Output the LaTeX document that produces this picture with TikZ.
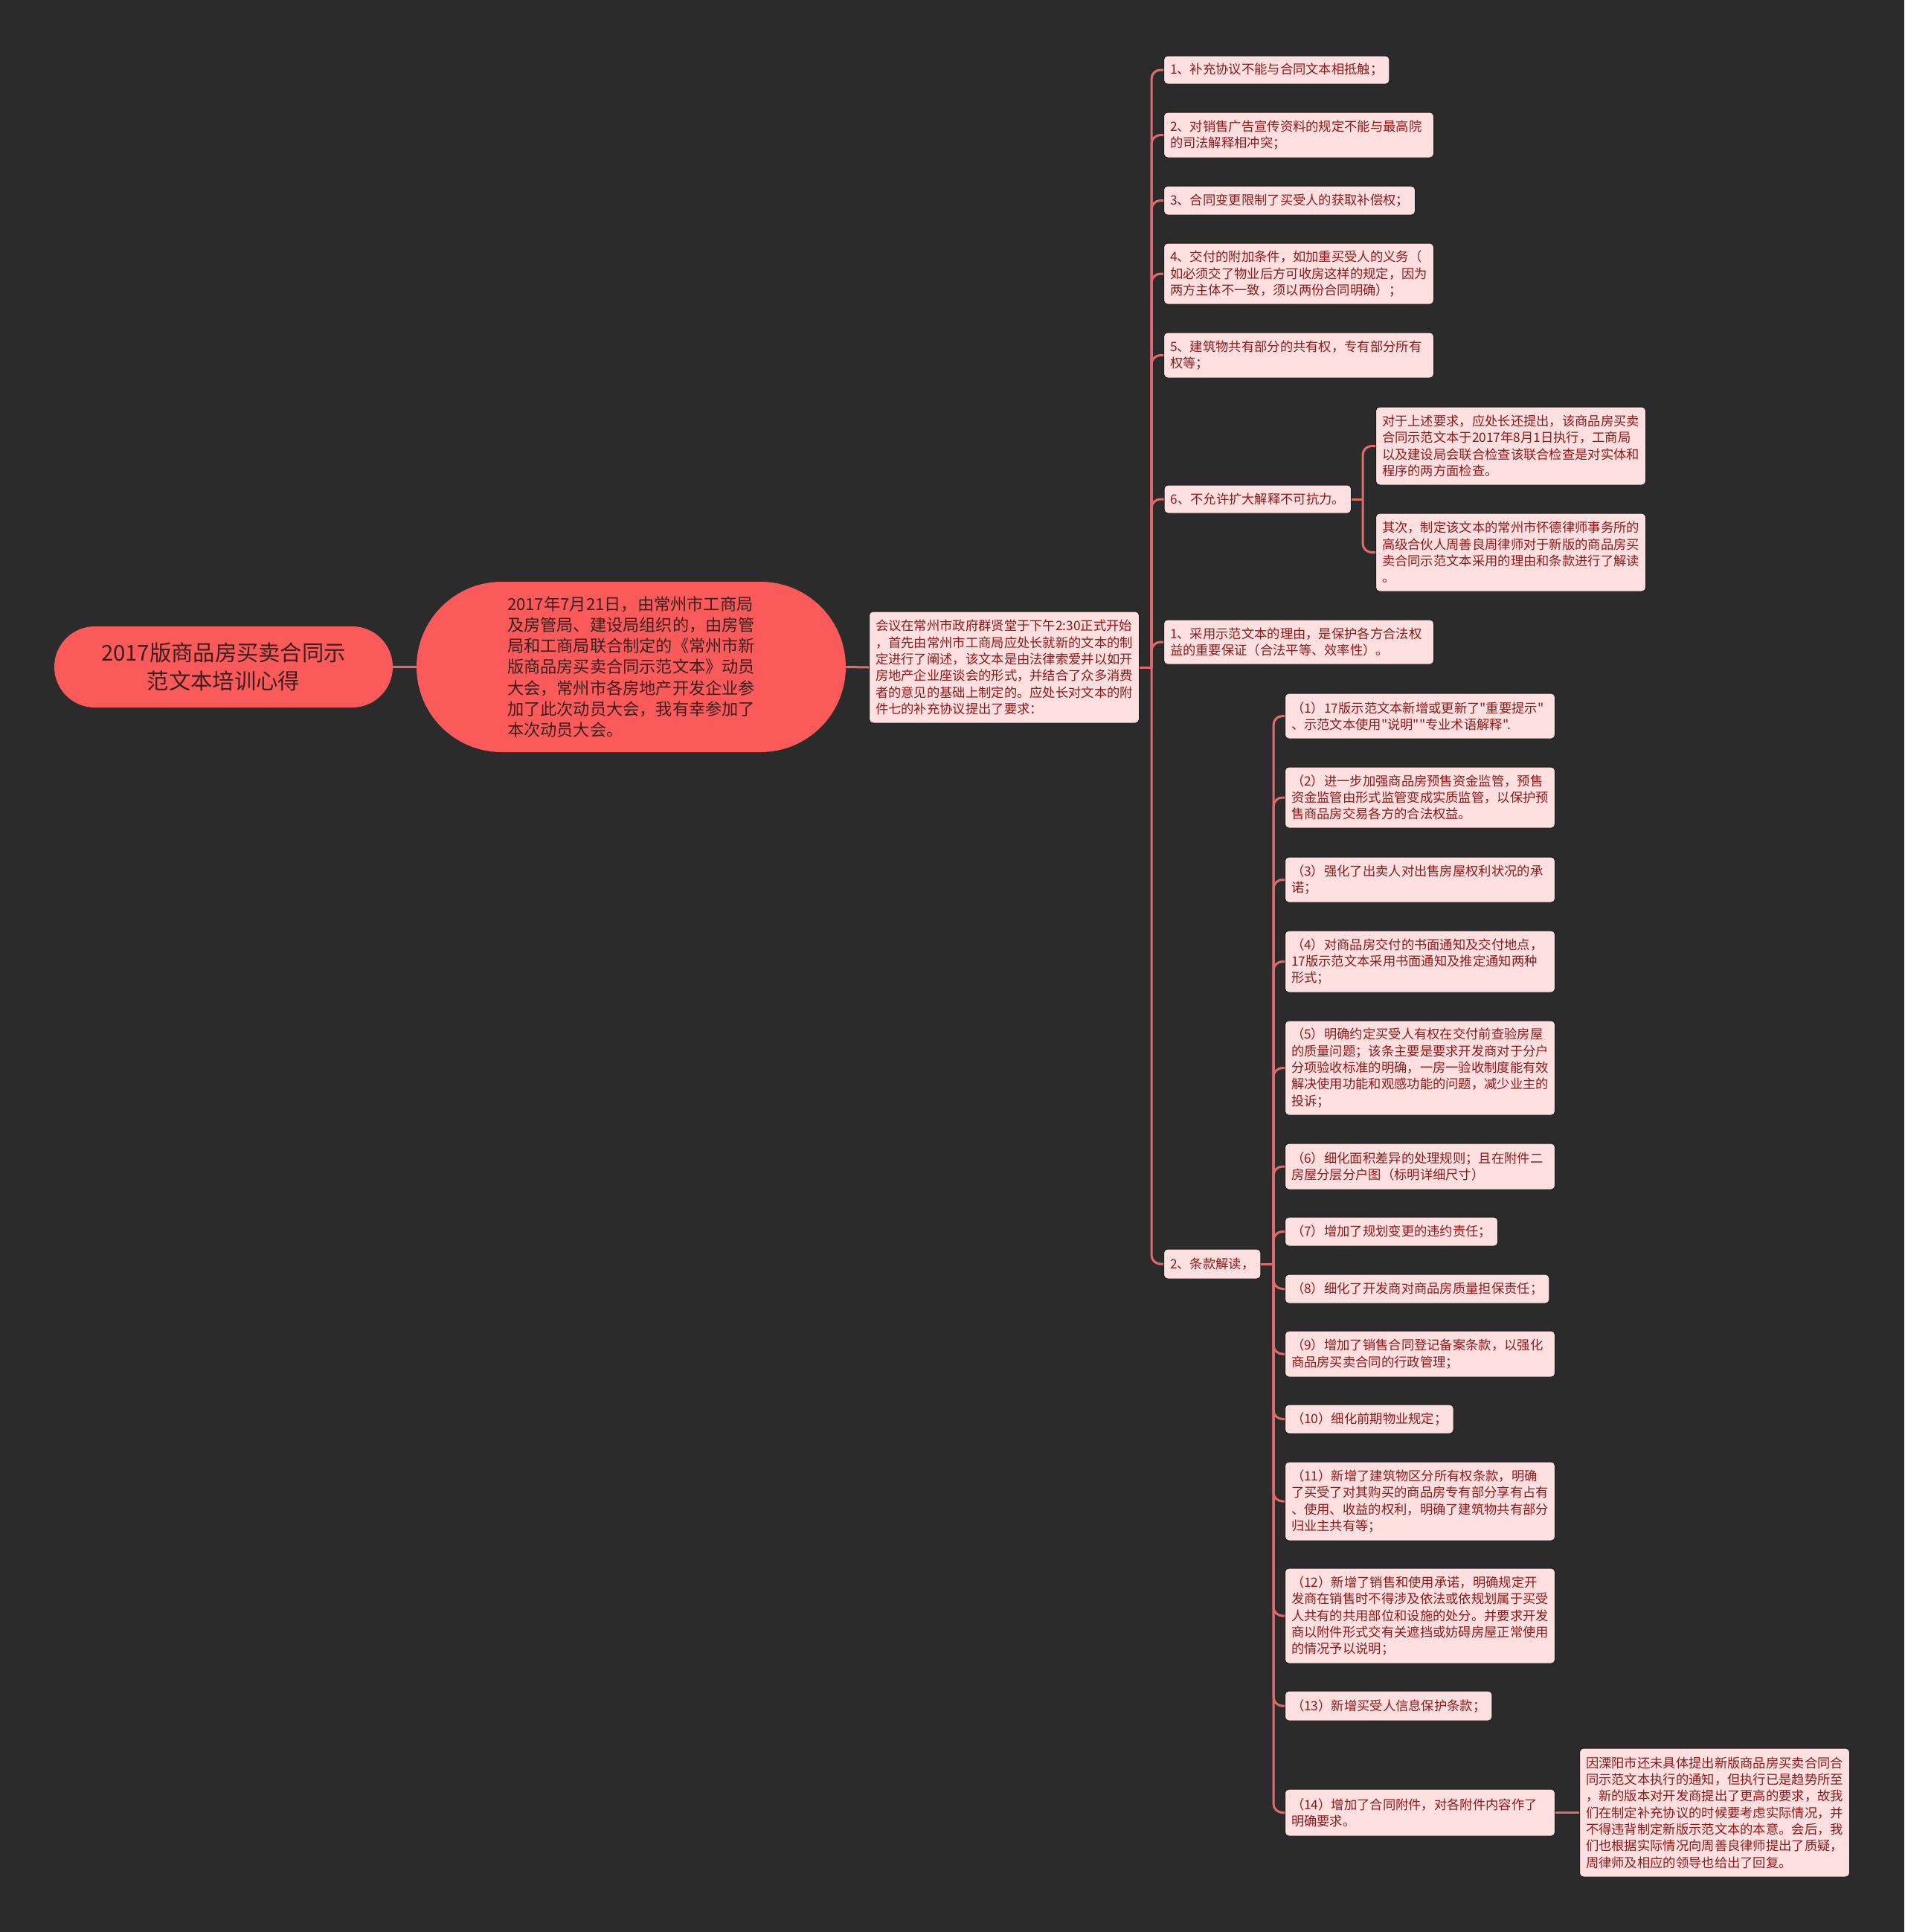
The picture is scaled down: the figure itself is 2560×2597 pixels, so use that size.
\documentclass[tikz,border=0pt]{standalone}
\usepackage{fontspec}
\setmainfont{Noto Sans CJK SC}
\newfontfamily\cjkfont{Noto Sans CJK SC}
\usetikzlibrary{shapes.misc}
\definecolor{bgc}{HTML}{2B2B2B}
\definecolor{mainfill}{HTML}{FA5A5A}
\definecolor{maintext}{HTML}{3A1E1E}
\definecolor{leaffill}{HTML}{FFE0E0}
\definecolor{leaftext}{HTML}{8C1A1A}
\definecolor{leafedge}{HTML}{1C1C1C}
\definecolor{connc}{HTML}{E26A6C}
\begin{document}
\begin{tikzpicture}[x=1pt,y=-1pt,
  rootn/.style={rounded rectangle, fill=mainfill, text=maintext, inner sep=0pt,
    minimum width=455pt, minimum height=109pt, align=center,
    font=\cjkfont\fontsize{29.3}{38}\selectfont},
  bign/.style={rounded rectangle, fill=mainfill, text=maintext, inner sep=0pt,
    minimum width=577pt, minimum height=229pt, align=left,
    font=\cjkfont\fontsize{22.2}{28.3}\selectfont},
  leaf/.style={rectangle, rounded corners=5pt, fill=leaffill, text=leaftext,
    draw=leafedge, line width=1pt,
    inner xsep=8.5pt, inner ysep=3pt, align=left, anchor=west,
    font=\cjkfont\fontsize{17.3}{22.3}\selectfont},
  leafw/.style={leaf, text width=346pt},
  conn/.style={draw=connc, line width=3pt},
  curvecon/.style={conn, rounded corners=12pt}]
\useasboundingbox (0,0) rectangle (2560,2597);
\fill[bgc] (0,0) rectangle (2560,2597);

% trunk x positions
\coordinate (t1) at (1548,0);
\coordinate (t2) at (1832,0);
\coordinate (t3) at (1712,0);

\node[rootn] (root) at (300.5,896.5) {2017版商品房买卖合同示\\范文本培训心得};

\node[bign] (n2) at (848.5,896.5) {2017年7月21日，由常州市工商局\\及房管局、建设局组织的，由房管\\局和工商局联合制定的《常州市新\\版商品房买卖合同示范文本》动员\\大会，常州市各房地产开发企业参\\加了此次动员大会，我有幸参加了\\本次动员大会。};

\node[leafw, minimum height=150pt] (n3) at (1168,897) {会议在常州市政府群贤堂于下午2:30正式开始\\，首先由常州市工商局应处长就新的文本的制\\定进行了阐述，该文本是由法律索爱并以如开\\房地产企业座谈会的形式，并结合了众多消费\\者的意见的基础上制定的。应处长对文本的附\\件七的补充协议提出了要求：};

% level 3
\node[leaf, minimum height=38pt] (c1) at (1564,94) {1、补充协议不能与合同文本相抵触；};
\node[leafw, minimum height=61pt] (c2) at (1564,181.5) {2、对销售广告宣传资料的规定不能与最高院\\的司法解释相冲突；};
\node[leaf, minimum height=39pt] (c3) at (1564,269.5) {3、合同变更限制了买受人的获取补偿权；};
\node[leafw, minimum height=82pt] (c4) at (1564,368) {4、交付的附加条件，如加重买受人的义务（\\如必须交了物业后方可收房这样的规定，因为\\两方主体不一致，须以两份合同明确）；};
\node[leafw, minimum height=61pt] (c5) at (1564,477.5) {5、建筑物共有部分的共有权，专有部分所有\\权等；};
\node[leaf, minimum height=38pt] (c6) at (1564.5,671) {6、不允许扩大解释不可抗力。};
\node[leafw, minimum height=60pt] (c7) at (1564,863) {1、采用示范文本的理由，是保护各方合法权\\益的重要保证（合法平等、效率性）。};
\node[leaf, minimum height=40pt] (c8) at (1564,1699) {2、条款解读，};

% children of c6
\node[leafw, minimum height=105pt] (d1) at (1849,599.5) {对于上述要求，应处长还提出，该商品房买卖\\合同示范文本于2017年8月1日执行，工商局\\以及建设局会联合检查该联合检查是对实体和\\程序的两方面检查。};
\node[leafw, minimum height=105pt] (d2) at (1849,742.5) {其次，制定该文本的常州市怀德律师事务所的\\高级合伙人周善良周律师对于新版的商品房买\\卖合同示范文本采用的理由和条款进行了解读\\。};

% children of c8
\node[leafw, minimum height=61pt] (e1) at (1727,962.5) {（1）17版示范文本新增或更新了"重要提示"\\、示范文本使用"说明""专业术语解释".};
\node[leafw, minimum height=82pt] (e2) at (1727,1072) {（2）进一步加强商品房预售资金监管，预售\\资金监管由形式监管变成实质监管，以保护预\\售商品房交易各方的合法权益。};
\node[leafw, minimum height=61pt] (e3) at (1727,1182.5) {（3）强化了出卖人对出售房屋权利状况的承\\诺；};
\node[leafw, minimum height=83pt] (e4) at (1727,1292.5) {（4）对商品房交付的书面通知及交付地点，\\17版示范文本采用书面通知及推定通知两种\\形式；};
\node[leafw, minimum height=127pt] (e5) at (1727,1435.5) {（5）明确约定买受人有权在交付前查验房屋\\的质量问题；该条主要是要求开发商对于分户\\分项验收标准的明确，一房一验收制度能有效\\解决使用功能和观感功能的问题，减少业主的\\投诉；};
\node[leafw, minimum height=62pt] (e6) at (1727,1568) {（6）细化面积差异的处理规则；且在附件二\\房屋分层分户图（标明详细尺寸）};
\node[leaf, minimum height=39pt] (e7) at (1727,1655.5) {（7）增加了规划变更的违约责任；};
\node[leaf, minimum height=39pt] (e8) at (1727,1732.5) {（8）细化了开发商对商品房质量担保责任；};
\node[leafw, minimum height=62pt] (e9) at (1727,1820) {（9）增加了销售合同登记备案条款，以强化\\商品房买卖合同的行政管理；};
\node[leaf, minimum height=39pt] (e10) at (1727,1907.5) {（10）细化前期物业规定；};
\node[leafw, minimum height=106pt] (e11) at (1727,2018) {（11）新增了建筑物区分所有权条款，明确\\了买受了对其购买的商品房专有部分享有占有\\、使用、收益的权利，明确了建筑物共有部分\\归业主共有等；};
\node[leafw, minimum height=128pt] (e12) at (1727,2172) {（12）新增了销售和使用承诺，明确规定开\\发商在销售时不得涉及依法或依规划属于买受\\人共有的共用部位和设施的处分。并要求开发\\商以附件形式交有关遮挡或妨碍房屋正常使用\\的情况予以说明；};
\node[leaf, minimum height=40pt] (e13) at (1727,2293) {（13）新增买受人信息保护条款；};
\node[leafw, minimum height=63pt] (e14) at (1727,2436.5) {（14）增加了合同附件，对各附件内容作了\\明确要求。};

\node[leafw, minimum height=173pt] (f1) at (2123,2436.5) {因溧阳市还未具体提出新版商品房买卖合同合\\同示范文本执行的通知，但执行已是趋势所至\\，新的版本对开发商提出了更高的要求，故我\\们在制定补充协议的时候要考虑实际情况，并\\不得违背制定新版示范文本的本意。会后，我\\们也根据实际情况向周善良律师提出了质疑，\\周律师及相应的领导也给出了回复。};

% connectors
\draw[conn] (root.east) -- (n2.west);
\draw[conn] (n2.east) -- (n3.west);
\draw[conn] (n3.east) -- (n3.east -| t1);
\foreach \c in {c1,c2,c3,c4,c5,c6,c7,c8}
  \draw[curvecon] (n3.east -| t1) |- (\c.west);
\draw[conn] (c6.east) -- (c6.east -| t2);
\foreach \c in {d1,d2}
  \draw[curvecon] (c6.east -| t2) |- (\c.west);
\draw[conn] (c8.east) -- (c8.east -| t3);
\foreach \c in {e1,e2,e3,e4,e5,e6,e7,e8,e9,e10,e11,e12,e13,e14}
  \draw[curvecon] (c8.east -| t3) |- (\c.west);
\draw[conn] (e14.east) -- (f1.west);
\end{tikzpicture}
\end{document}
